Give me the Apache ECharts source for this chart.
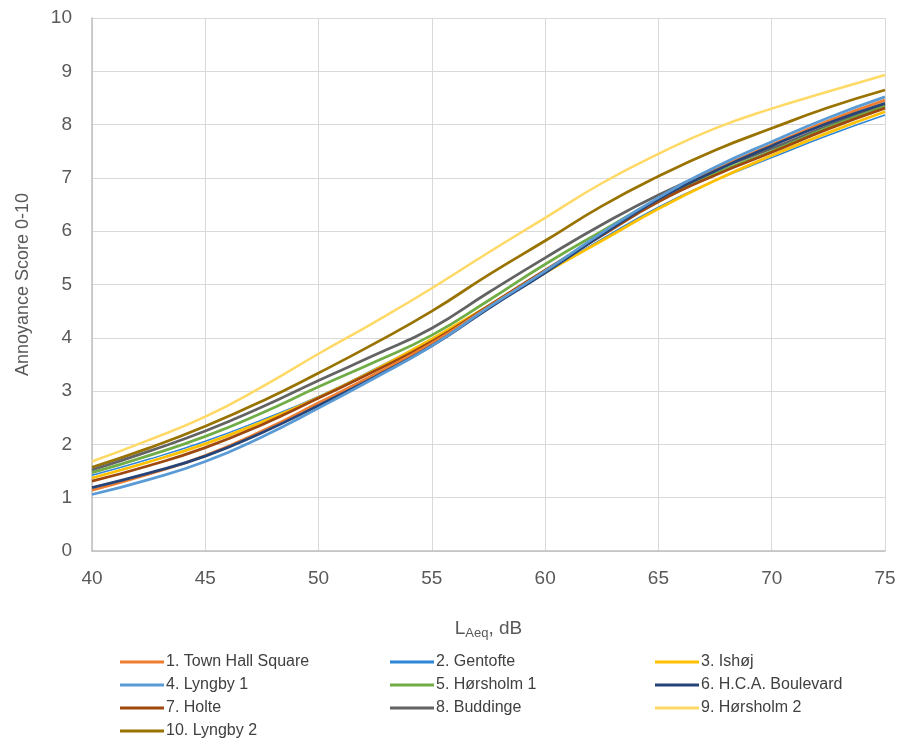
<!DOCTYPE html>
<html>
<head>
<meta charset="utf-8">
<script src="https://cdn.jsdelivr.net/npm/echarts@6/dist/echarts.min.js"></script>
<style>html,body{margin:0;padding:0;background:#fff}#c{width:901px;height:738px}</style>
</head>
<body>
<div id="c"></div>
<script>
const xValues = [40, 42.5, 45, 47.5, 50, 52.5, 55, 57.5, 60, 62.5, 65, 67.5, 70, 72.5, 75];
const seriesNames = ["1. Town Hall Square", "2. Gentofte", "3. Ishøj", "4. Lyngby 1", "5. Hørsholm 1", "6. H.C.A. Boulevard", "7. Holte", "8. Buddinge", "9. Hørsholm 2", "10. Lyngby 2"];
const townHall  = [1.14, 1.44, 1.79, 2.25, 2.78, 3.32, 3.90, 4.58, 5.25, 5.95, 6.60, 7.15, 7.62, 8.07, 8.46];
const gentofte  = [1.42, 1.72, 2.06, 2.46, 2.90, 3.42, 3.98, 4.60, 5.22, 5.85, 6.45, 6.95, 7.38, 7.80, 8.18];
const ishoj     = [1.37, 1.67, 2.01, 2.42, 2.88, 3.40, 3.98, 4.60, 5.22, 5.82, 6.42, 6.95, 7.42, 7.85, 8.24];
const lyngby1   = [1.06, 1.34, 1.68, 2.14, 2.68, 3.25, 3.85, 4.57, 5.25, 5.97, 6.63, 7.20, 7.68, 8.13, 8.52];
const horsholm1 = [1.47, 1.79, 2.15, 2.59, 3.08, 3.55, 4.05, 4.70, 5.38, 6.00, 6.60, 7.08, 7.50, 7.95, 8.34];
const hca       = [1.19, 1.46, 1.78, 2.22, 2.73, 3.27, 3.85, 4.55, 5.22, 5.93, 6.60, 7.13, 7.60, 8.03, 8.40];
const holte     = [1.31, 1.60, 1.94, 2.37, 2.87, 3.38, 3.93, 4.60, 5.27, 5.92, 6.55, 7.05, 7.48, 7.92, 8.31];
const buddinge  = [1.52, 1.87, 2.25, 2.70, 3.20, 3.68, 4.18, 4.85, 5.50, 6.12, 6.68, 7.15, 7.55, 7.98, 8.37];
const horsholm2 = [1.68, 2.08, 2.52, 3.08, 3.70, 4.30, 4.93, 5.60, 6.25, 6.90, 7.45, 7.93, 8.30, 8.62, 8.93];
const lyngby2   = [1.57, 1.93, 2.34, 2.81, 3.34, 3.90, 4.50, 5.18, 5.82, 6.47, 7.03, 7.52, 7.93, 8.32, 8.65];
const allValues = [townHall, gentofte, ishoj, lyngby1, horsholm1, hca, holte, buddinge, horsholm2, lyngby2];
const yTicks = [0,1,2,3,4,5,6,7,8,9,10];

const colors = ["#ED7D31", "#2E86D6", "#FFC000", "#5B9BD5", "#70AD47", "#264478", "#9E480E", "#636363", "#FFD966", "#997300"];
const widths = [2.75, 1.5, 2.75, 2.75, 2.75, 2.75, 2.75, 2.75, 2.5, 2.75];
const drawOrder = [8, 9, 7, 4, 1, 2, 6, 0, 5, 3];

const chart = echarts.init(document.getElementById('c'), null, {renderer: 'canvas'});
const font = "'Liberation Sans', Arial, sans-serif";
const series = drawOrder.map(i => ({
  name: seriesNames[i],
  type: 'line',
  symbol: 'none',
  smooth: 0.5,
  data: xValues.map((x, k) => [x, allValues[i][k]]),
  lineStyle: {color: colors[i], width: widths[i]},
  itemStyle: {color: colors[i]},
  z: 2 + drawOrder.indexOf(i)
}));
const legendBase = {
  orient: 'vertical', itemGap: 7, itemWidth: 44, itemHeight: 14, padding: 0, height: 120,
  textStyle: {fontFamily: font, fontSize: 16, color: '#404040', padding: [0,0,0,-3]},
  icon: 'path://M0,5.5 L44,5.5 L44,8.5 L0,8.5 Z'
};
chart.setOption({
  animation: false,
  backgroundColor: '#fff',
  grid: {left: 92, right: 16, top: 18, bottom: 187, containLabel: false},
  legend: [
    Object.assign({}, legendBase, {left: 120, top: 654, data: [seriesNames[0], seriesNames[3], seriesNames[6], seriesNames[9]]}),
    Object.assign({}, legendBase, {left: 390, top: 654, data: [seriesNames[1], seriesNames[4], seriesNames[7]]}),
    Object.assign({}, legendBase, {left: 655, top: 654, data: [seriesNames[2], seriesNames[5], seriesNames[8]]})
  ],
  xAxis: {
    type: 'value', min: 40, max: 75, interval: 5,
    name: '{a|L}{s|Aeq}{a|, dB}', nameLocation: 'middle', nameGap: 66,
    nameTextStyle: {rich: {
      a: {fontFamily: font, fontSize: 19, color: '#595959'},
      s: {fontFamily: font, fontSize: 13, color: '#595959', verticalAlign: 'bottom', padding: [10,0,0,0]}
    }},
    axisLine: {show: true, lineStyle: {color: '#bfbfbf', width: 1.5}},
    axisTick: {show: false},
    axisLabel: {fontFamily: font, fontSize: 19, color: '#595959', margin: 18},
    splitLine: {show: true, lineStyle: {color: '#d9d9d9', width: 1}}
  },
  yAxis: {
    type: 'value', min: 0, max: 10, interval: 1,
    name: 'Annoyance Score 0-10', nameLocation: 'middle', nameGap: 60,
    nameTextStyle: {fontFamily: font, fontSize: 18, color: '#595959'},
    axisLine: {show: true, lineStyle: {color: '#bfbfbf', width: 1.5}},
    axisTick: {show: false},
    axisLabel: {fontFamily: font, fontSize: 19, color: '#595959', margin: 20,
      formatter: v => yTicks.includes(v) ? String(v) : ''},
    splitLine: {show: true, lineStyle: {color: '#d9d9d9', width: 1}}
  },
  series: series
});
</script>
</body>
</html>
